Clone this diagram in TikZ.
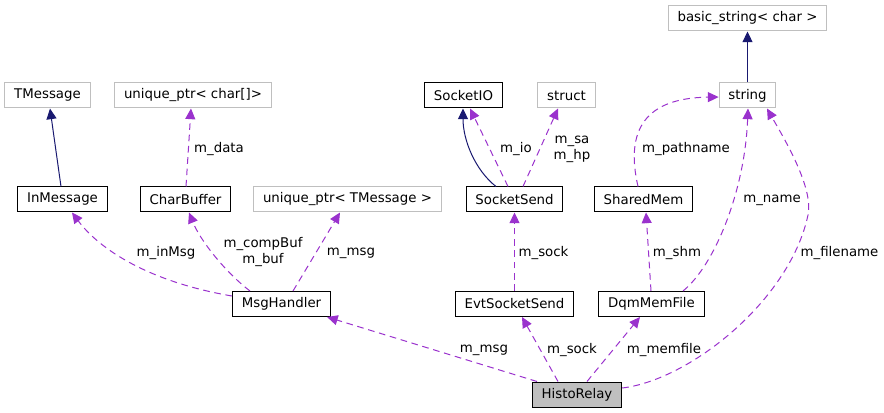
\documentclass[tikz,border=0pt]{standalone}
\usepackage{fontspec}
\setmainfont{DejaVu Sans}
\usetikzlibrary{arrows.meta,calc}
\definecolor{dox_purple}{RGB}{154, 50, 205}
\definecolor{dox_navy}{RGB}{25, 25, 112}
\definecolor{dox_grey}{RGB}{191, 191, 191}
\tikzstyle{cls}=[rectangle,draw=black,line width=0.75pt,
  inner xsep=7pt,inner ysep=0pt,minimum height=18.75pt]
\tikzstyle{ext}=[cls,draw=dox_grey]
\tikzstyle{main}=[cls,fill=dox_grey]
\tikzstyle{lbl}=[inner sep=0pt,align=center,yshift=-1.5pt]
\tikzstyle{inherit}=[draw=dox_navy,line width=0.75pt,
  -{Triangle[length=8pt,width=7.5pt]}]
\tikzstyle{member}=[inherit,draw=dox_purple,dash pattern=on 5pt off 3.5pt]

\begin{document}
\begin{tikzpicture}[x=0.75pt, y=-0.75pt]
            \useasboundingbox (0, 0) rectangle (884, 413);
            \node [style=ext] (0) at (47.5, 95.5) {TMessage};
            \node [style=ext] (1) at (193, 95.5) {unique\_ptr< char[]>};
            \node [style=ext] (2) at (347.5, 199.5) {unique\_ptr< TMessage >};
            \node [style=cls] (3) at (62.5, 199.5) {InMessage};
            \node [style=cls] (4) at (185.5, 199.5) {CharBuffer};
            \node [style=cls] (5) at (463.5, 95.5) {SocketIO};
            \node [style=ext] (6) at (566.5, 95.5) {struct};
            \node [style=ext] (7) at (747.5, 18.5) {basic\_string< char >};
            \node [style=ext] (8) at (747.5, 95.5) {string};
            \node [style=cls] (9) at (514.5, 199.5) {SocketSend};
            \node [style=cls] (10) at (643.5, 199.5) {SharedMem};
            \node [style=cls] (11) at (281.5, 304) {MsgHandler};
            \node [style=cls] (12) at (514.5, 304) {EvtSocketSend};
            \node [style=cls] (13) at (651.5, 304) {DqmMemFile};
            \node [style=main] (14) at (577, 394.5) {HistoRelay};
            \coordinate (15) at (808, 215);
            \draw [style=inherit] ($(3.north)+(-1.5,0)$) to ($(0.south)+(2.5,0)$);
            \draw [style=inherit] ($(9.north)+(-18.5,0)$) .. controls (475, 170) and (463, 140) .. ($(5.south)+(-0.5,0)$);
            \draw [style=inherit] (8.north) to (7.south);
            \draw [style=member] ($(4.north)+(0.5,0)$) to ($(1.south)+(-2,0)$);
            \draw [style=member] ($(11.west)+(0,-8)$) .. controls (150, 282) and (100, 250) .. ($(3.south)+(9.5,0)$);
            \draw [style=member] ($(11.north)+(-31.5,0)$) .. controls (225, 272) and (200, 240) .. ($(4.south)+(3.5,0)$);
            \draw [style=member] ($(11.north)+(11.5,0)$) to ($(2.south)+(-7.5,0)$);
            \draw [style=member] ($(9.north)+(-6.5,0)$) to ($(5.south)+(6.5,0)$);
            \draw [style=member] ($(9.north)+(8.5,0)$) to ($(6.south)+(-8.5,0)$);
            \draw [style=member] ($(10.north)+(-5.5,0)$) .. controls (625, 130) and (645, 98) .. ($(8.west)+(0,1.5)$);
            \draw [style=member] ($(13.north)+(31.5,0)$) .. controls (715, 265) and (745, 190) .. ($(8.south)+(0.5,0)$);
            \draw [style=member] ($(14.east)+(0,-6.5)$) .. controls (690, 380) and (790, 300) .. (15) .. controls (814, 187) and (782, 135) .. ($(8.south)+(19.5,0)$);
            \draw [style=member] (12.north) to (9.south);
            \draw [style=member] ($(13.north)+(-0.5,0)$) to ($(10.south)+(2.5,0)$);
            \draw [style=member] ($(14.north)+(-40,0)$) to ($(11.south east)+(-4,0)$);
            \draw [style=member] ($(14.north)+(-19,0)$) to ($(12.south)+(7.5,0)$);
            \draw [style=member] ($(14.north)+(10,0)$) to ($(13.south)+(-11.5,0)$);
            \node [style=lbl] (16) at (219, 147) {m\_data};
            \node [style=lbl] (17) at (166, 251) {m\_inMsg};
            \node [style=lbl] (18) at (263, 250.5) {m\_compBuf\\m\_buf};
            \node [style=lbl] (19) at (351, 251) {m\_msg};
            \node [style=lbl] (20) at (516, 147) {m\_io};
            \node [style=lbl] (21) at (572, 147.5) {m\_sa\\m\_hp};
            \node [style=lbl] (22) at (686, 147) {m\_pathname};
            \node [style=lbl] (23) at (772, 198) {m\_name};
            \node [style=lbl] (24) at (543.5, 251) {m\_sock};
            \node [style=lbl] (25) at (677, 251) {m\_shm};
            \node [style=lbl] (26) at (839.5, 251) {m\_filename};
            \node [style=lbl] (27) at (484, 348) {m\_msg};
            \node [style=lbl] (28) at (572, 348) {m\_sock};
            \node [style=lbl] (29) at (664, 348) {m\_memfile};
    \end{tikzpicture}
\end{document}
